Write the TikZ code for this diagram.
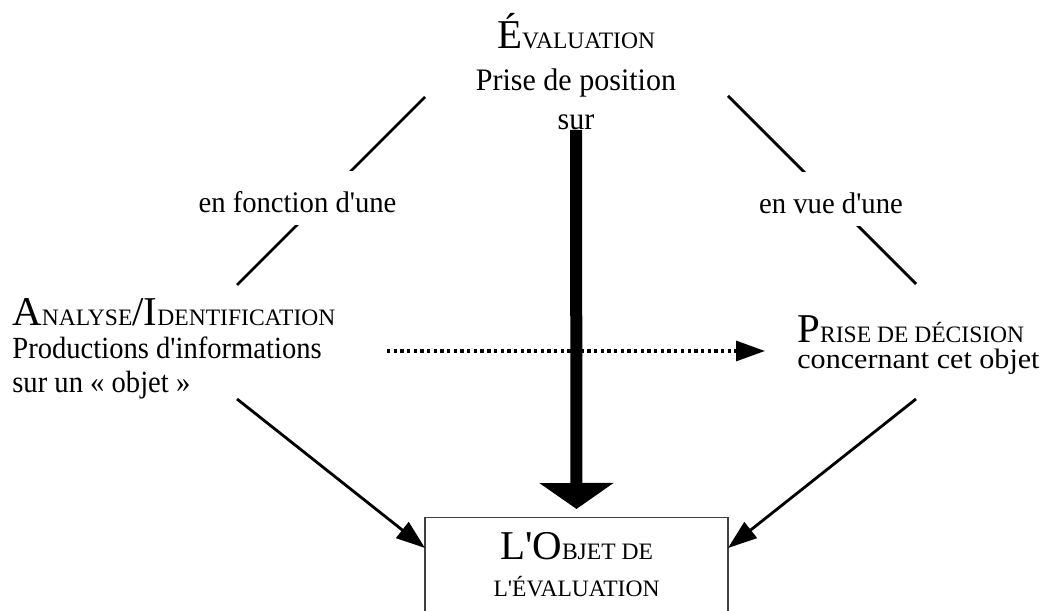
\documentclass[tikz,border=0pt]{standalone}
\usepackage{fontspec}
\setmainfont{Liberation Serif}[Ligatures=TeXOff]
\newfontfamily\wideserif{Liberation Serif}[Ligatures=TeXOff, FakeStretch=1.07]
\newfontfamily\narrowserif{Liberation Serif}[Ligatures=TeXOff, FakeStretch=0.93]
\newfontfamily\midserif{Liberation Serif}[Ligatures=TeXOff, FakeStretch=0.96]
\usetikzlibrary{arrows.meta}

% fake small caps: big initial, small rest
\newcommand{\capbig}[1]{{\rmfamily\fontsize{23.3}{28}\selectfont #1}}
\newcommand{\capsmall}[1]{{\rmfamily\fontsize{13.4}{16}\selectfont #1}}

\begin{document}
\begin{tikzpicture}[
      txt/.style={inner sep=0pt},
      lbl/.style={fill=white, inner sep=0pt, anchor=base,
                  text height=0.84cm, text depth=0.24cm,
                  font=\fontsize{17}{20}\midserif},
      objbox/.style={draw=black!75, line width=0.6pt, minimum width=6.06cm,
                  inner ysep=0.3cm, align=center,
                  font=\fontsize{17}{21}\selectfont},
      ln/.style={line width=1.6pt},
      arr/.style={ln, -{Triangle[length=0.58cm,width=0.4cm]}},
      dotarr/.style={arr, line width=1.8pt, dash pattern=on 1.9pt off 1.9pt},
      bigarr/.style={line width=0.24cm, -{Triangle[length=0.52cm,width=1.46cm]}},
    ]
    \useasboundingbox (0,0) rectangle (21.02,12.22);
    \clip (0,0) rectangle (21.02,12.22);

    % Top: evaluation
    \node[txt, align=center, anchor=south, font=\fontsize{17.8}{22.2}\midserif]
      (eval) at (11.52, 9.62)
      {\capbig{É}\capsmall{VALUATION}\\[0.06cm] Prise de position\\ sur};

    % Middle row: analysis and decision
    \node[txt, align=left, anchor=north west, font=\fontsize{17.5}{19.3}\narrowserif]
      (anal) at (0.24, 6.26)
      {\capbig{A}\capsmall{NALYSE}\capbig{/I}\capsmall{DENTIFICATION}\\[-0.02cm]
       Productions d'informations\\ sur un « objet »};
    \node[txt, align=left, anchor=north west, font=\fontsize{16}{15.2}\wideserif]
      (decis) at (15.94, 5.92)
      {\capbig{P}\capsmall{RISE DE DÉCISION}\\ concernant cet objet};

    % Bottom: the object
    \node[objbox, anchor=north] (objet) at (11.53, 1.88)
      {\capbig{L'O}\capsmall{BJET DE}\\ \capsmall{L'ÉVALUATION}};

    % Line ends
    \coordinate (eval-l)  at (8.50, 10.28);
    \coordinate (anal-t)  at (4.74, 6.52);
    \coordinate (eval-r)  at (14.56, 10.30);
    \coordinate (decis-t) at (18.32, 6.54);
    \coordinate (anal-b)  at (4.74, 4.24);
    \coordinate (objet-l) at (8.50, 1.26);
    \coordinate (decis-b) at (18.32, 4.24);
    \coordinate (objet-r) at (14.56, 1.26);
    \coordinate (anal-e)  at (7.74, 5.20);
    \coordinate (decis-w) at (15.30, 5.20);

    % Diagonals, with labels on top
    \draw[ln] (eval-l) -- (anal-t);
    \draw[ln] (eval-r) -- (decis-t);
    \node[lbl] (fonct) at (5.95, 7.96) {en fonction d'une};
    \node[lbl] (vue)   at (16.62, 7.94) {en vue d'une};

    % Arrows into the object
    \draw[arr] (anal-b) -- (objet-l);
    \draw[arr] (decis-b) -- (objet-r);

    % Dotted arrow, then the big one over it
    \draw[dotarr] (anal-e) -- (decis-w);
    \draw[bigarr, shorten >=0.16cm] (eval.south) -- (objet.north);

    \end{tikzpicture}
\end{document}
